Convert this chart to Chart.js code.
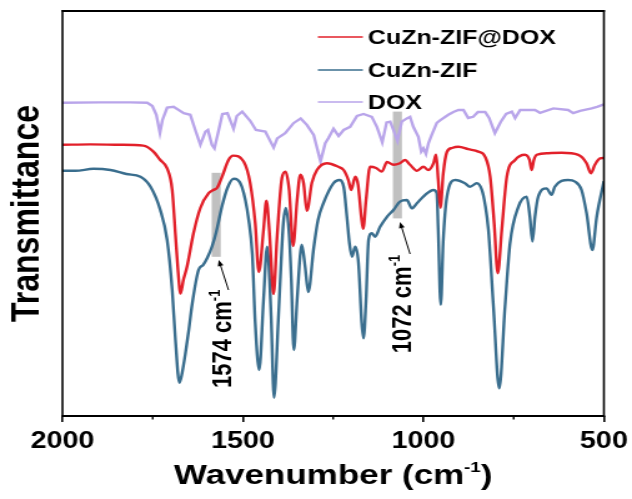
<!DOCTYPE html>
<html lang="en">
<head>
<meta charset="UTF-8">
<title>FTIR spectra</title>
<script src="https://cdn.jsdelivr.net/npm/chart.js"></script>
<style>
  html, body { margin: 0; padding: 0; background: #fff; overflow: hidden; }
  /* the figure is drawn narrow and widened, which gives the wide bold lettering */
  #wrap { width: 506px; height: 499px; transform: scaleX(1.249); transform-origin: 0 0; }
</style>
</head>
<body>
<div id="wrap"><canvas id="ftirChart" width="506" height="499"></canvas></div>
<script>
const FONT = '"Liberation Sans", Arial, Helvetica, sans-serif';

// CuZn-ZIF@DOX
const zifDoxWn = [2000, 1923, 1840, 1776, 1748, 1729, 1710, 1696, 1687, 1680, 1673, 1665, 1655, 1637, 1618, 1595, 1582, 1572, 1558, 1540, 1527, 1498, 1480, 1466, 1456, 1443, 1435, 1427, 1417, 1415, 1406, 1392, 1382, 1372, 1361, 1350, 1341, 1332, 1323, 1309, 1295, 1267, 1236, 1221, 1208, 1200, 1189, 1181, 1172, 1167, 1159, 1148, 1131, 1115, 1101, 1083, 1065, 1051, 1037, 1018, 1000, 986, 972, 965, 959, 953, 945, 935, 921, 903, 876, 848, 829, 815, 804, 794, 783, 769, 746, 719, 706, 700, 694, 686, 654, 617, 571, 548, 536, 525, 511, 500];
const zifDoxT = [67.8, 67.9, 67.8, 67.6, 66.1, 64.0, 61.9, 56.5, 45.3, 36.5, 30.6, 34.0, 37.3, 45.7, 52.0, 55.7, 56.5, 57.0, 59.8, 64.0, 65.1, 63.6, 58.2, 48.2, 36.0, 46.5, 53.8, 46.5, 31.5, 30.5, 44.0, 59.5, 61.1, 56.5, 42.5, 54.0, 60.3, 58.2, 51.3, 58.3, 61.5, 63.2, 62.3, 61.5, 59.0, 56.5, 59.8, 57.8, 49.8, 46.8, 54.0, 62.3, 62.0, 61.1, 63.5, 62.8, 63.2, 64.0, 62.8, 61.3, 62.3, 61.5, 63.2, 65.3, 59.0, 52.1, 60.7, 66.0, 67.0, 67.3, 66.7, 66.1, 64.8, 59.8, 48.2, 35.7, 46.5, 59.8, 64.0, 65.3, 64.0, 61.5, 64.0, 65.3, 65.7, 65.8, 65.3, 63.2, 60.7, 62.8, 64.4, 64.5];

// CuZn-ZIF
const zifWn = [2000, 1964, 1914, 1867, 1823, 1784, 1756, 1729, 1710, 1696, 1687, 1676, 1668, 1660, 1650, 1641, 1623, 1610, 1599, 1586, 1574, 1557, 1543, 1526, 1503, 1484, 1474, 1466, 1455, 1443, 1433, 1422, 1414, 1402, 1394, 1388, 1381, 1372, 1366, 1359, 1350, 1337, 1328, 1319, 1304, 1292, 1277, 1249, 1233, 1221, 1212, 1205, 1198, 1189, 1180, 1171, 1166, 1159, 1152, 1143, 1134, 1120, 1101, 1083, 1065, 1046, 1032, 1018, 995, 972, 963, 959, 952, 945, 935, 912, 885, 871, 852, 838, 829, 820, 806, 790, 774, 760, 737, 714, 705, 698, 691, 682, 659, 645, 636, 599, 580, 562, 548, 532, 520, 500];
const zifT = [61.3, 61.3, 61.8, 61.5, 60.5, 59.8, 57.3, 51.5, 44.0, 31.5, 19.0, 8.3, 11.0, 15.3, 21.5, 27.8, 36.5, 37.8, 39.5, 42.3, 46.0, 52.8, 57.0, 59.3, 57.3, 49.0, 40.3, 23.3, 11.5, 29.0, 42.3, 25.0, 4.6, 24.0, 39.0, 48.3, 52.0, 45.3, 34.0, 16.5, 29.0, 42.8, 37.5, 31.0, 42.0, 49.0, 53.2, 58.2, 59.0, 57.3, 49.8, 43.2, 39.8, 42.3, 38.3, 23.3, 19.4, 29.0, 44.0, 45.7, 44.8, 47.3, 49.8, 51.5, 53.6, 54.0, 51.9, 53.2, 55.3, 56.5, 55.7, 46.5, 27.8, 44.0, 54.8, 59.0, 58.2, 57.3, 58.2, 56.5, 52.8, 46.5, 27.3, 6.9, 27.3, 43.2, 52.3, 54.8, 49.8, 43.6, 49.8, 54.8, 56.9, 55.3, 57.3, 59.0, 58.6, 56.5, 50.7, 41.5, 49.8, 58.7];

// DOX
const doxWn = [2000, 1895, 1812, 1765, 1751, 1740, 1730, 1723, 1710, 1692, 1664, 1646, 1632, 1618, 1604, 1597, 1586, 1579, 1567, 1557, 1543, 1526, 1517, 1502, 1480, 1464, 1438, 1415, 1405, 1383, 1360, 1340, 1323, 1304, 1297, 1285, 1272, 1263, 1249, 1235, 1221, 1203, 1184, 1166, 1143, 1129, 1114, 1102, 1092, 1083, 1072, 1060, 1046, 1037, 1028, 1014, 1006, 1000, 993, 986, 977, 963, 954, 931, 917, 903, 889, 876, 862, 849, 829, 818, 802, 786, 771, 755, 746, 732, 691, 677, 640, 599, 585, 566, 534, 519, 500];
const doxT = [78.3, 78.4, 78.4, 78.3, 77.5, 75.3, 70.8, 74.0, 77.1, 77.3, 75.7, 75.3, 71.5, 67.8, 71.1, 71.5, 67.8, 66.9, 71.5, 75.5, 75.7, 71.8, 75.0, 76.1, 73.8, 71.5, 71.1, 67.1, 69.4, 70.7, 73.2, 74.4, 72.8, 70.3, 67.8, 63.6, 68.2, 69.5, 71.8, 70.0, 71.5, 72.3, 75.0, 75.5, 74.8, 72.3, 68.4, 73.4, 73.6, 71.5, 68.8, 73.6, 74.4, 74.8, 72.3, 69.8, 66.1, 66.9, 65.5, 68.2, 70.3, 73.3, 73.9, 75.3, 76.0, 76.5, 76.5, 74.5, 74.8, 76.0, 76.0, 74.5, 70.7, 73.5, 75.5, 76.1, 74.5, 76.5, 76.5, 75.8, 76.9, 76.5, 75.7, 76.3, 76.9, 77.3, 77.9];

const xTicks = [2000, 1500, 1000, 500];
const xMinorTicks = [1750, 1250, 750];

// marked bands (cm-1)
const markedBands = [1574, 1072];

function toPoints(wn, t) {
  return wn.map((w, i) => ({ x: w, y: t[i] }));
}

// band shading, arrow and rotated label for each marked wavenumber
const bandNotes = [
  { band: [39.8, 60.8], tip: [1567, 39.0], tail: [1540, 31.5], label: [1559, 7.0] },
  { band: [49.4, 76.1], tip: [1065, 48.5], tail: [1037, 40.5], label: [1062, 15.7] }
];

// text with a raised part, e.g. cm-1
function drawSupText(ctx, x, y, main, sup, tail, size, supSize, align) {
  const mainFont = `bold ${size}px ${FONT}`;
  const supFont = `bold ${supSize}px ${FONT}`;
  ctx.font = mainFont;
  const wMain = ctx.measureText(main).width;
  const wTail = tail ? ctx.measureText(tail).width : 0;
  ctx.font = supFont;
  const wSup = ctx.measureText(sup).width;
  const x0 = align === 'center' ? x - (wMain + wSup + wTail) / 2 : x;
  ctx.textAlign = 'left';
  ctx.textBaseline = 'alphabetic';
  ctx.font = mainFont;
  ctx.fillText(main, x0, y);
  ctx.font = supFont;
  ctx.fillText(sup, x0 + wMain, y - size * 0.42);
  if (tail) {
    ctx.font = mainFont;
    ctx.fillText(tail, x0 + wMain + wSup, y);
  }
}

function drawArrow(ctx, x1, y1, x2, y2) {
  const a = Math.atan2(y2 - y1, x2 - x1);
  const head = 6, half = 2.3;
  ctx.beginPath();
  ctx.moveTo(x1, y1);
  ctx.lineTo(x2 - Math.cos(a) * head * 0.8, y2 - Math.sin(a) * head * 0.8);
  ctx.stroke();
  ctx.beginPath();
  ctx.moveTo(x2, y2);
  ctx.lineTo(x2 - Math.cos(a) * head - Math.sin(a) * half, y2 - Math.sin(a) * head + Math.cos(a) * half);
  ctx.lineTo(x2 - Math.cos(a) * head + Math.sin(a) * half, y2 - Math.sin(a) * head - Math.cos(a) * half);
  ctx.closePath();
  ctx.fill();
}

const ftirDecor = {
  id: 'ftirDecor',
  beforeDatasetsDraw(chart) {
    const { ctx, scales: { x, y } } = chart;
    ctx.save();
    ctx.fillStyle = '#c0c0c0';
    markedBands.forEach((wn, i) => {
      const n = bandNotes[i];
      const x1 = x.getPixelForValue(wn + 12.5), x2 = x.getPixelForValue(wn - 12.5);
      const y1 = y.getPixelForValue(n.band[1]), y2 = y.getPixelForValue(n.band[0]);
      ctx.fillRect(x1, y1, x2 - x1, y2 - y1);
    });
    ctx.restore();
  },
  afterDraw(chart) {
    const { ctx, chartArea: { left, right, top, bottom }, scales: { x, y } } = chart;
    ctx.save();
    ctx.strokeStyle = '#000';
    ctx.fillStyle = '#000';

    // plot frame
    ctx.lineWidth = 2;
    ctx.beginPath();
    ctx.moveTo(left - 0.8, top); ctx.lineTo(right + 0.8, top);
    ctx.moveTo(left - 0.8, bottom); ctx.lineTo(right + 0.8, bottom);
    ctx.stroke();
    ctx.lineWidth = 1.6;
    ctx.beginPath();
    ctx.moveTo(left, top - 1); ctx.lineTo(left, bottom + 1);
    ctx.moveTo(right, top - 1); ctx.lineTo(right, bottom + 1);
    ctx.stroke();

    // minor ticks
    ctx.lineWidth = 1.4;
    ctx.beginPath();
    xMinorTicks.forEach(v => {
      const px = x.getPixelForValue(v);
      ctx.moveTo(px, bottom); ctx.lineTo(px, bottom + 3.5);
    });
    ctx.stroke();

    // arrows and rotated labels
    ctx.lineWidth = 1;
    markedBands.forEach((wn, i) => {
      const n = bandNotes[i];
      drawArrow(ctx, x.getPixelForValue(n.tail[0]), y.getPixelForValue(n.tail[1]),
                x.getPixelForValue(n.tip[0]), y.getPixelForValue(n.tip[1]));
      ctx.save();
      ctx.translate(x.getPixelForValue(n.label[0]), y.getPixelForValue(n.label[1]));
      ctx.rotate(-Math.PI / 2);
      drawSupText(ctx, 0, 22 * 0.36, wn + ' cm', '-1', '', 22, 13, 'left');
      ctx.restore();
    });

    // legend
    const lx = 254.5, rows = [37, 70, 102];
    chart.data.datasets.forEach((ds, i) => {
      ctx.strokeStyle = ds.borderColor;
      ctx.lineWidth = 1.6;
      ctx.beginPath();
      ctx.moveTo(lx, rows[i]); ctx.lineTo(lx + 36, rows[i]);
      ctx.stroke();
      ctx.fillStyle = '#000';
      ctx.font = `bold 20px ${FONT}`;
      ctx.textAlign = 'left';
      ctx.textBaseline = 'middle';
      ctx.fillText(ds.label, lx + 40, rows[i] + 1);
    });

    // x axis title
    ctx.fillStyle = '#000';
    drawSupText(ctx, (left + right) / 2, 484, 'Wavenumber (cm', '-1', ')', 28, 15, 'center');
    ctx.restore();
  }
};

Chart.defaults.font.family = FONT;
Chart.defaults.color = '#000';

new Chart(document.getElementById('ftirChart'), {
  type: 'line',
  data: {
    datasets: [
      { label: 'CuZn-ZIF@DOX', data: toPoints(zifDoxWn, zifDoxT), borderColor: '#e2202a', cubicInterpolationMode: 'monotone' },
      { label: 'CuZn-ZIF', data: toPoints(zifWn, zifT), borderColor: '#3a6e8e', cubicInterpolationMode: 'monotone' },
      { label: 'DOX', data: toPoints(doxWn, doxT), borderColor: '#b9a5ea', tension: 0 }
    ]
  },
  options: {
    responsive: false,
    animation: false,
    layout: { padding: { top: 11, right: 22.5, left: 0, bottom: 0 } },
    elements: { point: { radius: 0 }, line: { borderWidth: 2.4, fill: false } },
    plugins: { legend: { display: false }, tooltip: { enabled: false } },
    scales: {
      x: {
        type: 'linear',
        min: 500,
        max: 2000,
        reverse: true,
        afterBuildTicks: s => { s.ticks = xTicks.map(v => ({ value: v })); },
        ticks: {
          font: { size: 23, weight: 'bold' },
          color: '#000',
          padding: 6,
          maxRotation: 0,
          callback: v => String(v)
        },
        grid: { drawOnChartArea: false, tickLength: 6, color: '#000', lineWidth: 1.6 },
        border: { display: false },
        afterFit: s => {
          s.height = 83;
          s.paddingLeft = 0;
          s.paddingRight = 0;
        }
      },
      y: {
        min: 0,
        max: 101.25,
        ticks: { display: false },
        grid: { display: false },
        border: { display: false },
        title: {
          display: true,
          text: 'Transmittance',
          color: '#000',
          font: { size: 32, weight: 'bold' },
          padding: { top: 3, bottom: 0 }
        },
        afterFit: s => { s.width = 50; }
      }
    }
  },
  plugins: [ftirDecor]
});
</script>
</body>
</html>
